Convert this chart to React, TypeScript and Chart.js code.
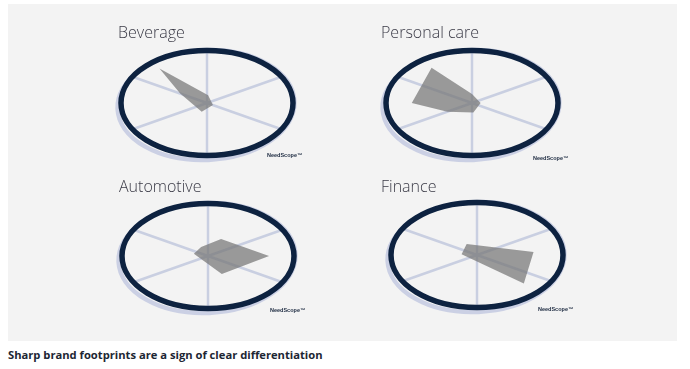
import React, { useEffect, useRef } from 'react';
import { Chart, registerables } from 'chart.js';

Chart.register(...registerables);

// Radar directions: degrees clockwise from the right-hand axis, on a 5° grid
const directions: string[] = Array.from({ length: 72 }, (_, i) => `${i * 5}°`);

// Brand footprints (direction of each vertex, value 0-100 = centre to rim)
const beverageDirections = [30, 110, 210, 230, 275];
const beverageValues = [8, 18, 36, 86, 15];

const personalCareDirections = [0, 85, 150, 180, 235, 270];
const personalCareValues = [10, 18, 33, 70, 82, 17];

const automotiveDirections = [0, 65, 195, 245, 295];
const automotiveValues = [71, 38, 17, 19, 36];

const financeDirections = [45, 185, 240, 355];
const financeValues = [77, 18, 24, 66];

// NeedScope segment dividers
const spokeDirections = [30, 90, 150, 210, 270, 330];

const titles = ['Beverage', 'Personal care', 'Automotive', 'Finance'];
const caption = 'Sharp brand footprints are a sign of clear differentiation';
const markText = 'NeedScope\u2122';

const TILT = 0.61; // vertical squash of the disc
const RING = '#0d2240';
const SHADOW = '#cbd0e4';
const SPOKE = '#c9cfe1';
const FILL = 'rgba(118,118,118,0.72)';

const CW = 196;
const CH = 172;

const layout = [
  { canvasLeft: 109, canvasTop: 17, titleLeft: 118, titleTop: 24, markLeft: 267, markTop: 152 },
  { canvasLeft: 374, canvasTop: 17, titleLeft: 381, titleTop: 24, markLeft: 533, markTop: 155 },
  { canvasLeft: 110, canvasTop: 170, titleLeft: 119, titleTop: 178, markLeft: 270, markTop: 307 },
  { canvasLeft: 379, canvasTop: 169, titleLeft: 381, titleTop: 178, markLeft: 538, markTop: 306 },
];

function toSeries(dirs: number[], vals: number[]): (number | null)[] {
  const arr: (number | null)[] = directions.map(() => null);
  dirs.forEach((d, i) => {
    arr[Math.round(d / 5) % directions.length] = vals[i];
  });
  return arr;
}

const discPlugin = {
  id: 'needscopeDisc',
  beforeDatasetsDraw(chart: any) {
    const s = chart.scales.r;
    const ctx = chart.ctx as CanvasRenderingContext2D;
    const cx = s.xCenter;
    const cy = s.yCenter;
    const R = s.drawingArea;
    ctx.save();
    ctx.strokeStyle = SHADOW;
    ctx.lineWidth = 4.5;
    ctx.beginPath();
    ctx.ellipse(cx - 1, cy + 2, R + 2.5, R * TILT + 2.5, -0.045, 0, Math.PI * 2);
    ctx.stroke();
    ctx.strokeStyle = SPOKE;
    ctx.lineWidth = 2.5;
    spokeDirections.forEach((d) => {
      const p = s.getPointPositionForValue(d / 5, s.max);
      ctx.beginPath();
      ctx.moveTo(cx, cy);
      ctx.lineTo(p.x, cy + (p.y - cy) * TILT);
      ctx.stroke();
    });
    ctx.restore();
    ctx.save();
    ctx.translate(cx, cy);
    ctx.scale(1, TILT);
    ctx.translate(-cx, -cy);
  },
  afterDatasetsDraw(chart: any) {
    const s = chart.scales.r;
    const ctx = chart.ctx as CanvasRenderingContext2D;
    ctx.restore();
    ctx.save();
    ctx.strokeStyle = RING;
    ctx.lineWidth = 5.5;
    ctx.beginPath();
    ctx.ellipse(s.xCenter, s.yCenter, s.drawingArea, s.drawingArea * TILT, 0, 0, Math.PI * 2);
    ctx.stroke();
    ctx.restore();
  },
};

function Footprint({ dirs, vals, left, top }: { dirs: number[]; vals: number[]; left: number; top: number }) {
  const ref = useRef<HTMLCanvasElement>(null);
  useEffect(() => {
    if (!ref.current) return;
    const chart = new Chart(ref.current, {
      type: 'radar',
      data: {
        labels: directions,
        datasets: [
          {
            data: toSeries(dirs, vals),
            backgroundColor: FILL,
            borderWidth: 0,
            pointRadius: 0,
            pointHoverRadius: 0,
            fill: 'origin',
            spanGaps: true,
            tension: 0,
            clip: false,
          } as any,
        ],
      },
      options: {
        responsive: false,
        animation: false,
        events: [],
        layout: { padding: 0 },
        plugins: {
          legend: { display: false },
          tooltip: { enabled: false },
          title: { display: false },
        },
        scales: {
          r: { display: false, min: 0, max: 100, startAngle: 90 } as any,
        },
      },
      plugins: [discPlugin],
    });
    return () => chart.destroy();
  }, [dirs, vals]);
  return (
    <canvas
      ref={ref}
      width={CW}
      height={CH}
      style={{ position: 'absolute', left, top, width: CW, height: CH }}
    />
  );
}

const series = [
  [beverageDirections, beverageValues],
  [personalCareDirections, personalCareValues],
  [automotiveDirections, automotiveValues],
  [financeDirections, financeValues],
];

export default function App() {
  return (
    <div style={{ position: 'absolute', left: 0, top: 0, width: 690, height: 369, background: '#ffffff', overflow: 'hidden' }}>
      <div style={{ position: 'absolute', left: 8, top: 4, width: 669, height: 337, background: '#f3f3f3' }} />
      {layout.map((l, i) => (
        <React.Fragment key={titles[i]}>
          <Footprint dirs={series[i][0]} vals={series[i][1]} left={l.canvasLeft} top={l.canvasTop} />
          <div
            style={{
              position: 'absolute',
              left: l.titleLeft,
              top: l.titleTop,
              fontFamily: '"Open Sans", sans-serif',
              fontWeight: 300,
              fontSize: 16,
              lineHeight: '16px',
              color: '#3a3a46',
              whiteSpace: 'nowrap',
            }}
          >
            {titles[i]}
          </div>
          <div
            style={{
              position: 'absolute',
              left: l.markLeft,
              top: l.markTop,
              fontFamily: '"Liberation Sans", Arial, sans-serif',
              fontWeight: 700,
              fontSize: 5.5,
              lineHeight: '6px',
              color: '#1c2a40',
              whiteSpace: 'nowrap',
            }}
          >
            {markText}
          </div>
        </React.Fragment>
      ))}
      <div
        style={{
          position: 'absolute',
          left: 8,
          top: 348,
          fontFamily: '"Open Sans", sans-serif',
          fontWeight: 700,
          fontSize: 11.2,
          lineHeight: '14px',
          color: '#1c2633',
          whiteSpace: 'nowrap',
        }}
      >
        {caption}
      </div>
    </div>
  );
}
